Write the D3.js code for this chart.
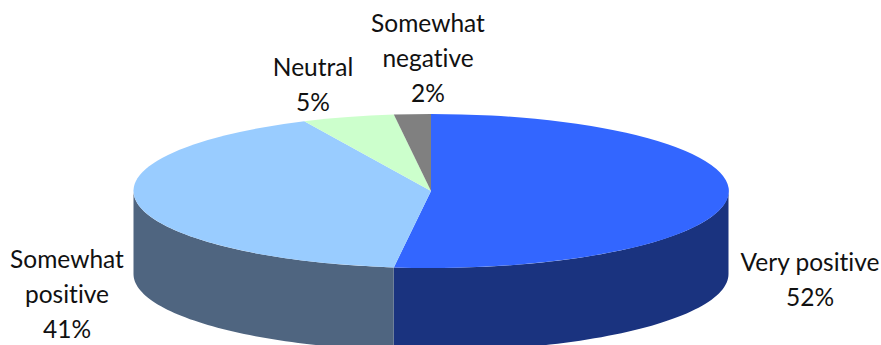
<!DOCTYPE html>
<html>
<head>
<meta charset="utf-8">
<style>
  html, body { margin: 0; padding: 0; background: #fff; overflow: hidden; }
  svg { display: block; }
  text { font-family: Lato, "Open Sans", sans-serif; font-size: 24.5px; font-variant-ligatures: none; fill: #111; text-anchor: middle; }
</style>
<script src="https://cdn.jsdelivr.net/npm/d3@7"></script>
</head>
<body>
<script>
// Survey response shares, clockwise from twelve o'clock
const categories = ["Very positive", "Somewhat positive", "Neutral", "Somewhat negative"];
const shares = [52, 41, 5, 2];
const topColors = ["#3366ff", "#99ccff", "#ccffcc", "#808080"];
const wallColors = ["#1a337f", "#4f6580", "#667f66", "#404040"];
const labelLines = [["Very positive", "52%"], ["Somewhat", "positive", "41%"], ["Neutral", "5%"], ["Somewhat", "negative", "2%"]];
const labelAnchors = [[810, 271], [67, 268], [313, 76], [428, 32]];

const width = 881, height = 345;
const center = { x: 431, y: 191 };
const radiusX = 297.5, radiusY = 77, depth = 83;

const svg = d3.select("body").append("svg")
  .attr("width", width).attr("height", height);

const slices = d3.pie().value((d, i) => shares[i]).sort(null)(categories);

// Projected rim position for a pie angle (0 = up, clockwise)
const rimX = d3.scaleLinear().domain([-1, 1]).range([center.x - radiusX, center.x + radiusX]);
const rimY = d3.scaleLinear().domain([-1, 1]).range([center.y - radiusY, center.y + radiusY]);
const rimPoint = (a, drop = 0) => [rimX(Math.sin(a)), rimY(-Math.cos(a)) + drop];

// Side walls: only the part of each slice facing the viewer, between 90 and 270 degrees
function wallPath(s) {
  const a0 = Math.max(s.startAngle, Math.PI / 2);
  const a1 = Math.min(s.endAngle, 3 * Math.PI / 2);
  if (a1 <= a0) return null;
  const angles = d3.range(0, 61).map(i => a0 + (a1 - a0) * i / 60);
  const upper = angles.map(a => rimPoint(a));
  const lower = angles.slice().reverse().map(a => rimPoint(a, depth));
  return d3.line()(upper.concat(lower)) + "Z";
}

svg.append("g").selectAll("path")
  .data(slices.filter(s => wallPath(s)))
  .join("path")
  .attr("d", wallPath)
  .attr("fill", d => wallColors[d.index]);

// Top face: a unit pie squashed into the ellipse
const unitArc = d3.arc().innerRadius(0).outerRadius(1);
svg.append("g")
  .attr("transform", `translate(${center.x},${center.y}) scale(${radiusX},${radiusY})`)
  .selectAll("path")
  .data(slices)
  .join("path")
  .attr("d", unitArc)
  .attr("fill", d => topColors[d.index]);

// Category and percentage labels
const labels = svg.append("g").selectAll("text")
  .data(labelLines)
  .join("text")
  .attr("transform", (d, i) => `translate(${labelAnchors[i][0]},${labelAnchors[i][1]})`);
labels.selectAll("tspan")
  .data(d => d)
  .join("tspan")
  .attr("x", 0)
  .attr("y", (d, i) => i * 35)
  .text(d => d);
</script>
</body>
</html>
